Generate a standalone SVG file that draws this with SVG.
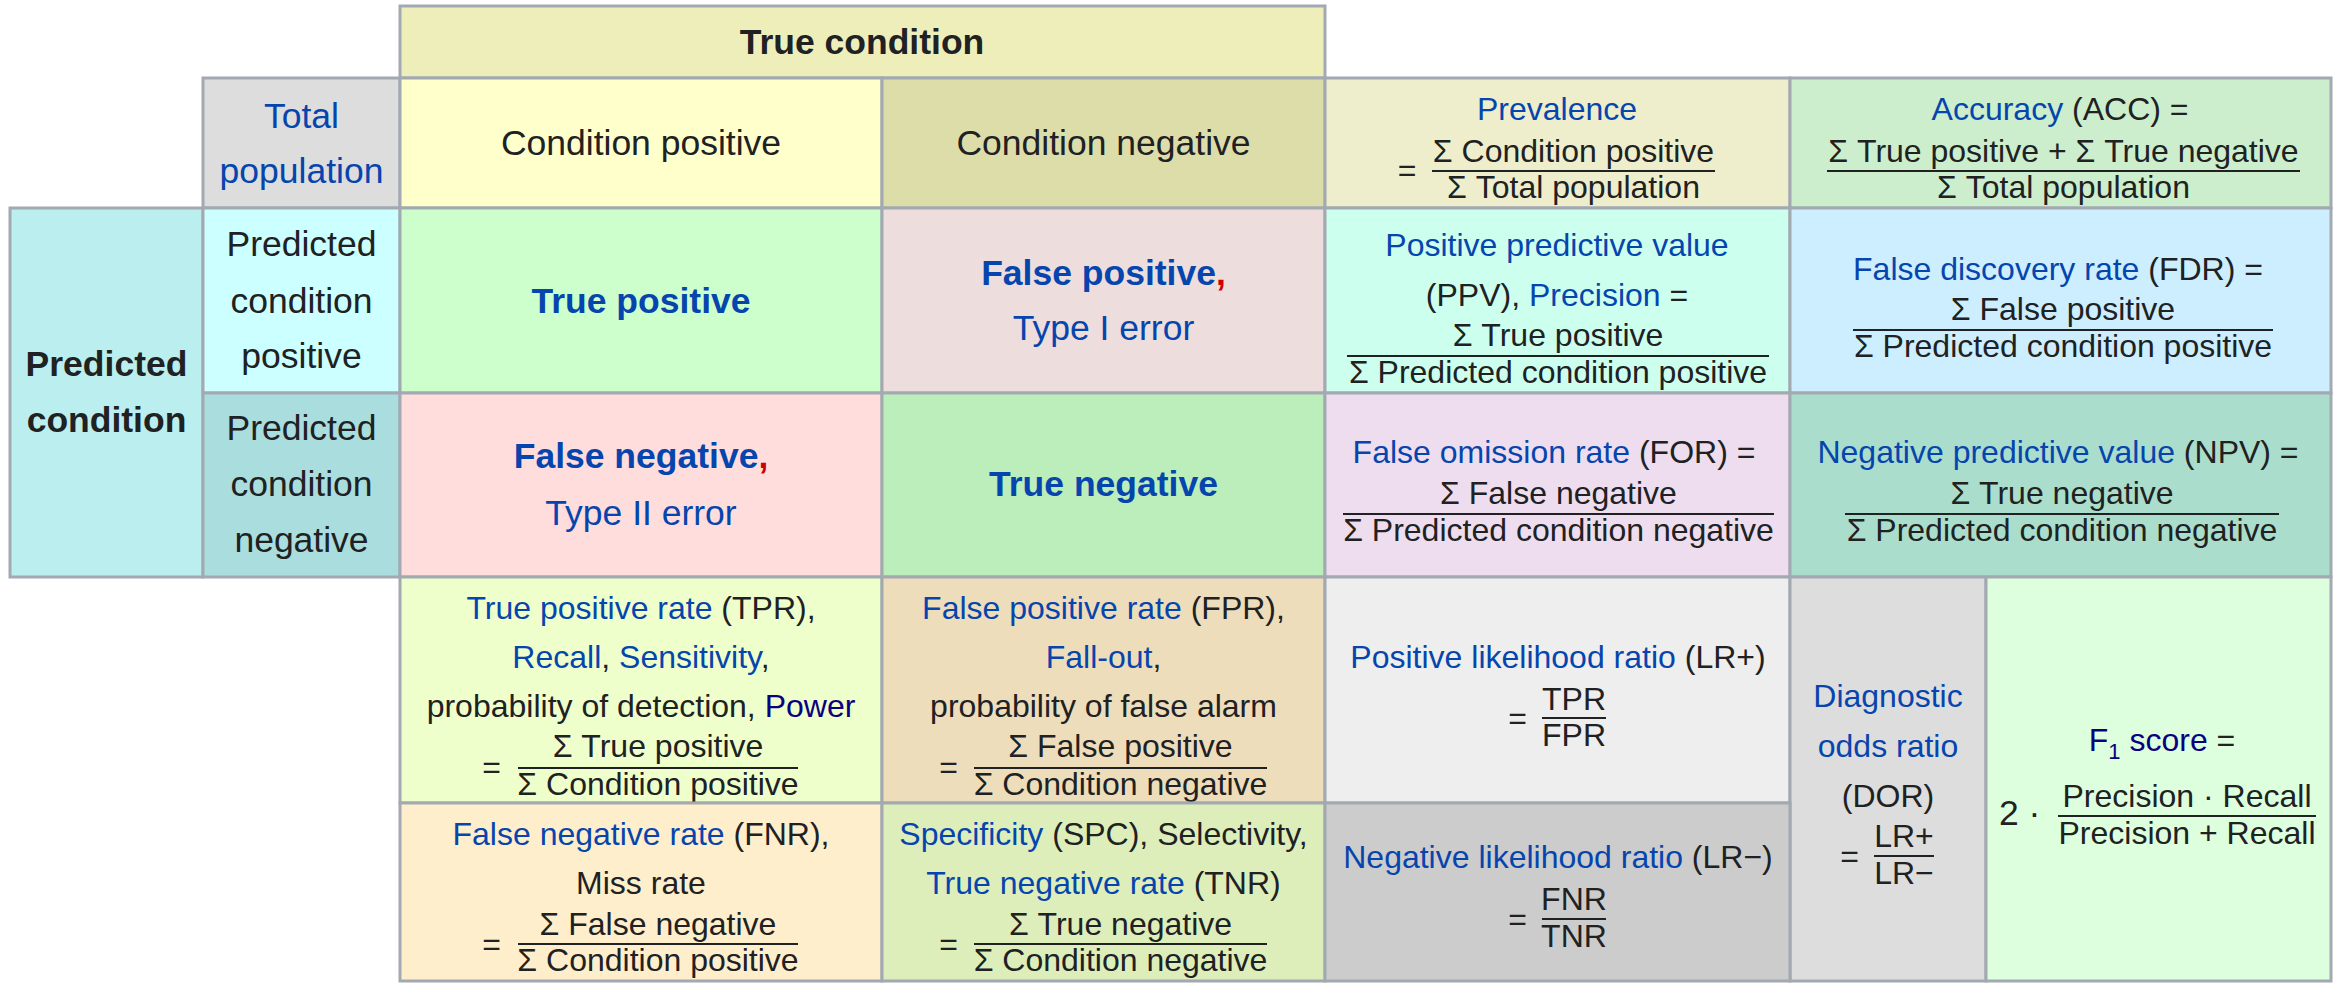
<svg xmlns="http://www.w3.org/2000/svg" width="2334" height="990" viewBox="0 0 2334 990">
<style>
text{font-family:"Liberation Sans",Arial,Helvetica,sans-serif;font-size:35.5px;fill:#202122;text-anchor:middle}
.s{font-size:32px}
.b{font-weight:bold}
.l{fill:#0645ad}
.v{fill:#0b0080}
.r{fill:#cc0000}
.st{text-anchor:start}
.cell{stroke:#a2a9b1;stroke-width:3}
.fr{stroke:#202122;stroke-width:2}
</style>
<rect width="2334" height="990" fill="#ffffff"/>
<g id="true-condition"><rect class="cell" x="400" y="6" width="925" height="72" fill="#eeeebb"/><text class="b" x="862" y="54">True condition</text></g>
<g id="total-population"><rect class="cell" x="203" y="78" width="197" height="130" fill="#dddddd"/><text class="l" x="301.5" y="128">Total</text><text class="l" x="301.5" y="183">population</text></g>
<g id="condition-positive"><rect class="cell" x="400" y="78" width="482" height="130" fill="#ffffcc"/><text x="641" y="155">Condition positive</text></g>
<g id="condition-negative"><rect class="cell" x="882" y="78" width="443" height="130" fill="#ddddaa"/><text x="1103.5" y="155">Condition negative</text></g>
<g id="prevalence"><rect class="cell" x="1325" y="78" width="465" height="130" fill="#eeeecc"/>
<text class="s l" x="1557" y="120">Prevalence</text>
<text class="s" x="1407" y="181">=</text>
<text class="s" x="1573.5" y="162">Σ Condition positive</text>
<line class="fr" x1="1432" y1="171" x2="1715" y2="171"/>
<text class="s" x="1573.5" y="198">Σ Total population</text></g>
<g id="accuracy"><rect class="cell" x="1790" y="78" width="541" height="130" fill="#cceecc"/>
<text class="s" x="2060" y="120"><tspan class="l">Accuracy</tspan> (ACC) =</text>
<text class="s" x="2063.5" y="162">Σ True positive + Σ True negative</text>
<line class="fr" x1="1827" y1="171" x2="2300" y2="171"/>
<text class="s" x="2063.5" y="198">Σ Total population</text></g>
<g id="predicted-condition"><rect class="cell" x="10" y="208" width="193" height="369" fill="#bbeeee"/><text class="b" x="106.5" y="376">Predicted</text><text class="b" x="106.5" y="432">condition</text></g>
<g id="predicted-condition-positive"><rect class="cell" x="203" y="208" width="197" height="185" fill="#ccffff"/><text x="301.5" y="256">Predicted</text><text x="301.5" y="313">condition</text><text x="301.5" y="368">positive</text></g>
<g id="true-positive"><rect class="cell" x="400" y="208" width="482" height="185" fill="#ccffcc"/><text class="b l" x="641" y="313">True positive</text></g>
<g id="false-positive"><rect class="cell" x="882" y="208" width="443" height="185" fill="#eedddd"/><text class="b" x="1103.5" y="285"><tspan class="l">False positive</tspan><tspan class="r">,</tspan></text><text class="l" x="1103.5" y="340">Type I error</text></g>
<g id="ppv"><rect class="cell" x="1325" y="208" width="465" height="185" fill="#ccffee"/>
<text class="s l" x="1557" y="256">Positive predictive value</text>
<text class="s" x="1557" y="306">(PPV), <tspan class="l">Precision</tspan> =</text>
<text class="s" x="1558" y="346">Σ True positive</text>
<line class="fr" x1="1347" y1="356" x2="1769" y2="356"/>
<text class="s" x="1558" y="383">Σ Predicted condition positive</text></g>
<g id="fdr"><rect class="cell" x="1790" y="208" width="541" height="185" fill="#cceeff"/>
<text class="s" x="2058" y="280"><tspan class="l">False discovery rate</tspan> (FDR) =</text>
<text class="s" x="2063" y="320">Σ False positive</text>
<line class="fr" x1="1853" y1="330" x2="2273" y2="330"/>
<text class="s" x="2063" y="357">Σ Predicted condition positive</text></g>
<g id="predicted-condition-negative"><rect class="cell" x="203" y="393" width="197" height="184" fill="#aadddd"/><text x="301.5" y="440">Predicted</text><text x="301.5" y="496">condition</text><text x="301.5" y="552">negative</text></g>
<g id="false-negative"><rect class="cell" x="400" y="393" width="482" height="184" fill="#ffdddd"/><text class="b" x="641" y="468"><tspan class="l">False negative</tspan><tspan class="r">,</tspan></text><text class="l" x="641" y="525">Type II error</text></g>
<g id="true-negative"><rect class="cell" x="882" y="393" width="443" height="184" fill="#bbeebb"/><text class="b l" x="1103.5" y="496">True negative</text></g>
<g id="for"><rect class="cell" x="1325" y="393" width="465" height="184" fill="#eeddee"/>
<text class="s" x="1554" y="463"><tspan class="l">False omission rate</tspan> (FOR) =</text>
<text class="s" x="1558.5" y="504">Σ False negative</text>
<line class="fr" x1="1343" y1="514" x2="1774" y2="514"/>
<text class="s" x="1558.5" y="541">Σ Predicted condition negative</text></g>
<g id="npv"><rect class="cell" x="1790" y="393" width="541" height="184" fill="#aaddcc"/>
<text class="s" x="2058" y="463"><tspan class="l">Negative predictive value</tspan> (NPV) =</text>
<text class="s" x="2062" y="504">Σ True negative</text>
<line class="fr" x1="1845" y1="514" x2="2279" y2="514"/>
<text class="s" x="2062" y="541">Σ Predicted condition negative</text></g>
<g id="tpr"><rect class="cell" x="400" y="577" width="482" height="226" fill="#eeffcc"/>
<text class="s" x="641" y="619"><tspan class="l">True positive rate</tspan> (TPR),</text>
<text class="s" x="641" y="668"><tspan class="l">Recall</tspan>, <tspan class="l">Sensitivity</tspan>,</text>
<text class="s" x="641" y="717">probability of detection, <tspan class="v">Power</tspan></text>
<text class="s" x="491.5" y="778">=</text>
<text class="s" x="658" y="757">Σ True positive</text>
<line class="fr" x1="518" y1="768" x2="798" y2="768"/>
<text class="s" x="658" y="795">Σ Condition positive</text></g>
<g id="fpr"><rect class="cell" x="882" y="577" width="443" height="226" fill="#eeddbb"/>
<text class="s" x="1103.5" y="619"><tspan class="l">False positive rate</tspan> (FPR),</text>
<text class="s" x="1103.5" y="668"><tspan class="l">Fall-out</tspan>,</text>
<text class="s" x="1103.5" y="717">probability of false alarm</text>
<text class="s" x="948.5" y="778">=</text>
<text class="s" x="1120.5" y="757">Σ False positive</text>
<line class="fr" x1="974" y1="768" x2="1267" y2="768"/>
<text class="s" x="1120.5" y="795">Σ Condition negative</text></g>
<g id="lr-plus"><rect class="cell" x="1325" y="577" width="465" height="226" fill="#eeeeee"/>
<text class="s" x="1558" y="668"><tspan class="l">Positive likelihood ratio</tspan> (LR+)</text>
<text class="s" x="1517.5" y="729">=</text>
<text class="s" x="1574" y="710">TPR</text>
<line class="fr" x1="1542" y1="718" x2="1606" y2="718"/>
<text class="s" x="1574" y="746">FPR</text></g>
<g id="dor"><rect class="cell" x="1790" y="577" width="196" height="404" fill="#dddddd"/>
<text class="s l" x="1888" y="707">Diagnostic</text>
<text class="s l" x="1888" y="757">odds ratio</text>
<text class="s" x="1888" y="807">(DOR)</text>
<text class="s" x="1849.5" y="867">=</text>
<text class="s" x="1904" y="847">LR+</text>
<line class="fr" x1="1874" y1="856" x2="1934" y2="856"/>
<text class="s" x="1904" y="884">LR−</text></g>
<g id="f1"><rect class="cell" x="1986" y="577" width="345" height="404" fill="#ddffdd"/>
<text class="s" x="2162" y="751"><tspan class="v">F</tspan><tspan class="v" font-size="22" dy="8">1</tspan><tspan class="v" dy="-8"> score</tspan> =</text>
<text class="st" x="1999" y="825" font-size="36">2 ·</text>
<text class="s" x="2187" y="807">Precision · Recall</text>
<line class="fr" x1="2058" y1="816" x2="2316" y2="816"/>
<text class="s" x="2187" y="844">Precision + Recall</text></g>
<g id="fnr"><rect class="cell" x="400" y="803" width="482" height="178" fill="#ffeecc"/>
<text class="s" x="641" y="845"><tspan class="l">False negative rate</tspan> (FNR),</text>
<text class="s" x="641" y="894">Miss rate</text>
<text class="s" x="491.5" y="955">=</text>
<text class="s" x="658" y="935">Σ False negative</text>
<line class="fr" x1="518" y1="944" x2="798" y2="944"/>
<text class="s" x="658" y="971">Σ Condition positive</text></g>
<g id="tnr"><rect class="cell" x="882" y="803" width="443" height="178" fill="#ddeebb"/>
<text class="s" x="1103.5" y="845"><tspan class="l">Specificity</tspan> (SPC), Selectivity,</text>
<text class="s" x="1103.5" y="894"><tspan class="l">True negative rate</tspan> (TNR)</text>
<text class="s" x="948.5" y="955">=</text>
<text class="s" x="1120.5" y="935">Σ True negative</text>
<line class="fr" x1="974" y1="944" x2="1267" y2="944"/>
<text class="s" x="1120.5" y="971">Σ Condition negative</text></g>
<g id="lr-minus"><rect class="cell" x="1325" y="803" width="465" height="178" fill="#cccccc"/>
<text class="s" x="1558" y="868"><tspan class="l">Negative likelihood ratio</tspan> (LR−)</text>
<text class="s" x="1517.5" y="930">=</text>
<text class="s" x="1574" y="910">FNR</text>
<line class="fr" x1="1542" y1="919" x2="1606" y2="919"/>
<text class="s" x="1574" y="947">TNR</text></g>
<g id="connectors"></g>
</svg>
